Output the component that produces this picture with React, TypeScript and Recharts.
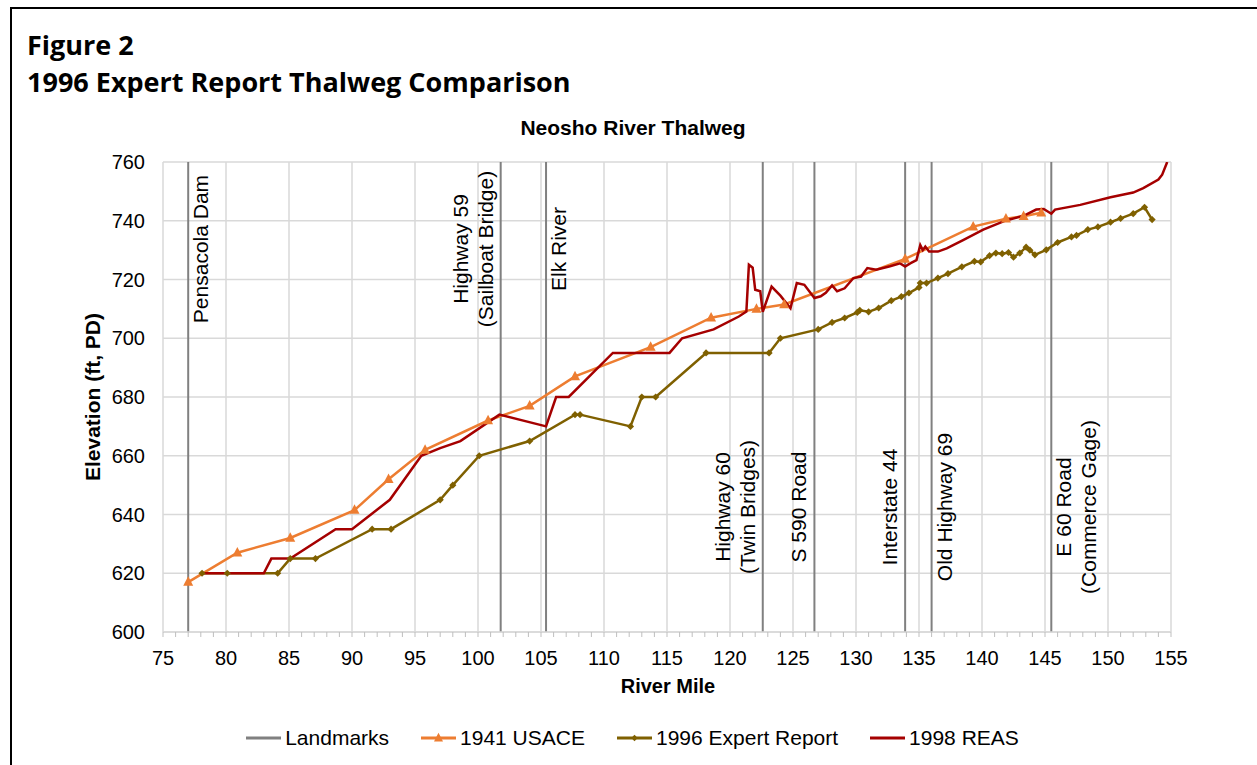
import React from "react";
import { LineChart, Line, XAxis, YAxis, CartesianGrid, Legend } from "recharts";

const W = 1257;
const H = 765;

// axis ticks
const xTicks = [75, 80, 85, 90, 95, 100, 105, 110, 115, 120, 125, 130, 135, 140, 145, 150, 155];
const xMinorTicks = Array.from({ length: 81 }, (_, i) => 75 + i);
const yTicks = [600, 620, 640, 660, 680, 700, 720, 740, 760];

// landmarks (river mile)
const landmarkNames = [
  "Pensacola Dam",
  "Highway 59 (Sailboat Bridge)",
  "Elk River",
  "Highway 60 (Twin Bridges)",
  "S 590 Road",
  "Interstate 44",
  "Old Highway 69",
  "E 60 Road (Commerce Gage)",
];
const landmarkMiles = [77.0, 101.8, 105.4, 122.6, 126.7, 133.9, 136.0, 145.5];
const landmarkLabelLines = [
  ["Pensacola Dam"],
  ["Highway 59", "(Sailboat Bridge)"],
  ["Elk River"],
  ["Highway 60", "(Twin Bridges)"],
  ["S 590 Road"],
  ["Interstate 44"],
  ["Old Highway 69"],
  ["E 60 Road", "(Commerce Gage)"],
];
// where each label sits: top/bottom of the plot, left/right of the line
const landmarkLabelSpots = [
  ["top", "right"],
  ["top", "left"],
  ["top", "right"],
  ["bottom", "left"],
  ["bottom", "left"],
  ["bottom", "left"],
  ["bottom", "right"],
  ["bottom", "right"],
];

// 1941 USACE
const usaceMiles = [77.0, 80.9, 85.1, 90.2, 92.9, 95.8, 100.8, 104.1, 107.7, 113.7, 118.5, 122.1, 124.3, 133.9, 139.3, 141.9, 143.3, 144.7];
const usaceElev = [617, 627, 632, 641.5, 652, 662, 672, 677, 687, 697, 707, 710, 711.5, 727, 738, 740.7, 741.5, 742.7];

// 1996 Expert Report
const expertMiles = [
  78.1, 80.1, 84.1, 85.1, 87.1, 91.6, 93.1, 97.0, 98.0, 100.1, 104.1, 107.7, 108.1, 112.1, 113.0, 114.1,
  118.1, 123.1, 124.0, 127.0, 128.1, 129.1, 130.1, 130.3, 131.0, 131.8, 132.8, 133.6, 134.2, 135.0, 135.1,
  135.6, 136.5, 137.3, 138.4, 139.4, 139.9, 140.6, 141.1, 141.6, 142.1, 142.5, 143.0, 143.5, 143.8, 144.2,
  145.1, 146.0, 147.1, 147.5, 148.4, 149.2, 150.2, 151.0, 152.0, 152.9, 153.5,
];
const expertElev = [
  620, 620, 620, 625, 625, 635, 635, 645, 650, 660, 665, 674, 674, 670, 680, 680,
  695, 695, 700, 703, 705.4, 706.9, 708.8, 709.5, 709, 710.3, 712.8, 714.2, 715.4, 717.3, 718.8,
  718.8, 720.5, 722, 724.3, 726.2, 726, 728.1, 729, 728.8, 729.2, 727.6, 729, 731, 730, 728.4,
  730.1, 732.6, 734.5, 735, 737, 737.9, 739.5, 740.8, 742.4, 744.6, 740.4,
];

// 1998 REAS
const reasMiles = [
  78.1, 83.0, 83.6, 85.1, 88.7, 90.0, 93.0, 95.5, 97.0, 98.6, 101.7, 105.4, 106.2, 107.2, 110.7, 115.2,
  116.2, 118.7, 120.7, 121.3, 121.5, 121.8, 122.0, 122.4, 122.6, 123.3, 124.0, 124.8, 125.3, 125.9, 126.7,
  127.2, 127.6, 128.1, 128.5, 129.1, 129.8, 130.4, 130.9, 131.6, 132.7, 133.5, 133.9, 134.3, 134.8, 135.1,
  135.3, 135.5, 135.8, 136.5, 137.2, 138.5, 140.1, 141.9, 143.3, 144.3, 144.9, 145.5, 145.8, 147.8, 150.2,
  152.0, 152.8, 154.0, 154.3, 154.7,
];
const reasElev = [
  620, 620, 625, 625, 635, 635, 645, 660, 662.6, 665, 674, 670, 680, 680, 695, 695,
  700, 703, 707.4, 709.1, 725, 724, 716.5, 716, 709, 717.6, 714.5, 710.2, 718.8, 718.2, 713.7,
  714.3, 715.5, 718, 716, 717, 720.5, 721, 723.9, 723.3, 724.5, 725.5, 724.4, 725.5, 726.6, 731.7,
  730, 731.2, 729.5, 729.5, 730.6, 733.4, 737, 740.1, 741.7, 743.8, 744, 742.4, 743.8, 745.4, 748,
  749.6, 751.1, 754, 755.7, 760,
];

const zip = (miles: number[], elev: number[]) => miles.map((m, i) => ({ mile: m, elev: elev[i] }));

const landmarkData = landmarkMiles.flatMap((m, i) => [
  { mile: m, elev: yTicks[0], kind: "base", li: i, name: landmarkNames[i] },
  { mile: m, elev: yTicks[yTicks.length - 1], kind: "top", li: i, name: landmarkNames[i] },
  { mile: m, elev: null, kind: "gap", li: i, name: landmarkNames[i] },
]);
const usaceData = zip(usaceMiles, usaceElev);
const expertData = zip(expertMiles, expertElev);
const reasData = zip(reasMiles, reasElev);

const COLORS = {
  landmarks: "#808080",
  usace: "#ED7D31",
  expert: "#7F6000",
  reas: "#A50000",
};

const seriesStyles = [
  { name: "Landmarks", color: COLORS.landmarks, marker: "none" },
  { name: "1941 USACE", color: COLORS.usace, marker: "triangle" },
  { name: "1996 Expert Report", color: COLORS.expert, marker: "diamond" },
  { name: "1998 REAS", color: COLORS.reas, marker: "none" },
];

const FONT = "'Liberation Sans', Arial, sans-serif";

const triPath = (cx: number, cy: number, s: number) =>
  `M${cx},${cy - s * 1.15}L${cx + s},${cy + s * 0.75}L${cx - s},${cy + s * 0.75}Z`;
const diaPath = (cx: number, cy: number, s: number) =>
  `M${cx},${cy - s}L${cx + s},${cy}L${cx},${cy + s}L${cx - s},${cy}Z`;

const TriangleDot = (props: any) => {
  const { cx, cy, index } = props;
  if (cx == null || cy == null) return <g key={`t-${index}`} />;
  return <path key={`t-${index}`} d={triPath(cx, cy, 5)} fill={COLORS.usace} />;
};

const DiamondDot = (props: any) => {
  const { cx, cy, index } = props;
  if (cx == null || cy == null) return <g key={`d-${index}`} />;
  return <path key={`d-${index}`} d={diaPath(cx, cy, 3.6)} fill={COLORS.expert} />;
};

// landmark names are drawn from the base / top point of each landmark line
const LandmarkLabel = (props: any) => {
  const { cx, cy, index, payload } = props;
  const key = `lm-${index}`;
  if (cx == null || cy == null || !payload) return <g key={key} />;
  const [where, side] = landmarkLabelSpots[payload.li];
  if ((where === "top" && payload.kind !== "top") || (where === "bottom" && payload.kind !== "base")) {
    return <g key={key} />;
  }
  const lines = landmarkLabelLines[payload.li];
  const centerY = where === "top" ? cy + 87 : cy - 125;
  const n = lines.length;
  return (
    <g key={key}>
      {lines.map((t, i) => {
        const bx = side === "right" ? cx + 20 + i * 25 : cx - 8 - (n - 1 - i) * 25;
        return (
          <text
            key={t}
            x={bx}
            y={centerY}
            transform={`rotate(-90 ${bx} ${centerY})`}
            textAnchor="middle"
            fontSize={21}
            fill="#000"
          >
            {t}
          </text>
        );
      })}
    </g>
  );
};

const XTick = (props: any) => {
  const { x, y, payload } = props;
  if (payload.value % 5 !== 0) return <g />;
  return (
    <text x={x} y={y} dy={24} textAnchor="middle" fontSize={20} fill="#000">
      {payload.value}
    </text>
  );
};

const LegendIcon = ({ color, marker }: { color: string; marker: string }) => (
  <svg width={35} height={14} style={{ display: "block" }}>
    <line x1={0} y1={7} x2={35} y2={7} stroke={color} strokeWidth={3} />
    {marker === "triangle" && <path d={triPath(17.5, 7, 4.5)} fill={color} />}
    {marker === "diamond" && <path d={diaPath(17.5, 7, 3.2)} fill={color} />}
  </svg>
);

const renderLegend = () => (
  <div style={{ display: "flex", justifyContent: "center", gap: 32, fontFamily: FONT, fontSize: 21, color: "#000" }}>
    {seriesStyles.map((s) => (
      <div key={s.name} style={{ display: "flex", alignItems: "center", gap: 4 }}>
        <LegendIcon color={s.color} marker={s.marker} />
        <span>{s.name}</span>
      </div>
    ))}
  </div>
);

export default function App() {
  return (
    <div style={{ position: "absolute", left: 0, top: 0, width: W, height: H, background: "#fff", fontFamily: FONT }}>
      <svg width={W} height={H} style={{ position: "absolute", left: 0, top: 0 }}>
        <line x1={10} y1={8} x2={W} y2={8} stroke="#000" strokeWidth={2} />
        <line x1={11} y1={8} x2={11} y2={H} stroke="#000" strokeWidth={2} />
        <text x={27} y={55} fontFamily="'Open Sans', sans-serif" fontWeight={700} fontSize={27} fill="#000">
          Figure 2
        </text>
        <text x={27} y={92} fontFamily="'Open Sans', sans-serif" fontWeight={700} fontSize={27} fill="#000">
          1996 Expert Report Thalweg Comparison
        </text>
        <text x={633} y={135} textAnchor="middle" fontWeight={700} fontSize={21} fill="#000">
          Neosho River Thalweg
        </text>
        <text x={668} y={693} textAnchor="middle" fontWeight={700} fontSize={20} fill="#000">
          River Mile
        </text>
        <text
          x={100}
          y={397}
          transform="rotate(-90 100 397)"
          textAnchor="middle"
          fontWeight={700}
          fontSize={21}
          fill="#000"
        >
          Elevation (ft, PD)
        </text>
      </svg>
      <div style={{ position: "absolute", left: 0, top: 0 }}>
        <LineChart width={W} height={H} margin={{ top: 162, right: 86, bottom: 93, left: 103 }}>
          <CartesianGrid stroke="#D9D9D9" strokeWidth={1.5} verticalValues={xTicks} horizontalValues={yTicks} />
          <XAxis
            type="number"
            dataKey="mile"
            domain={[75, 155]}
            ticks={xMinorTicks}
            interval={0}
            allowDataOverflow
            height={40}
            axisLine={{ stroke: "#D9D9D9", strokeWidth: 1.5 }}
            tickLine={{ stroke: "#BFBFBF" }}
            tickSize={5}
            tickMargin={4}
            tick={<XTick />}
          />
          <YAxis
            type="number"
            domain={[600, 760]}
            ticks={yTicks}
            interval={0}
            allowDataOverflow
            width={60}
            axisLine={false}
            tickLine={false}
            tickSize={0}
            tickMargin={18}
            tick={{ fill: "#000", fontSize: 20 }}
          />
          <Legend
            layout="horizontal"
            verticalAlign="middle"
            align="center"
            wrapperStyle={{ top: 726, left: 8, width: W - 8 }}
            content={renderLegend}
          />
          <Line
            name="Landmarks"
            data={landmarkData}
            dataKey="elev"
            stroke={COLORS.landmarks}
            strokeWidth={2}
            dot={LandmarkLabel}
            activeDot={false}
            connectNulls={false}
            isAnimationActive={false}
          />
          <Line
            name="1941 USACE"
            data={usaceData}
            dataKey="elev"
            stroke={COLORS.usace}
            strokeWidth={2.5}
            dot={TriangleDot}
            activeDot={false}
            isAnimationActive={false}
          />
          <Line
            name="1996 Expert Report"
            data={expertData}
            dataKey="elev"
            stroke={COLORS.expert}
            strokeWidth={2.5}
            dot={DiamondDot}
            activeDot={false}
            isAnimationActive={false}
          />
          <Line
            name="1998 REAS"
            data={reasData}
            dataKey="elev"
            stroke={COLORS.reas}
            strokeWidth={2.5}
            dot={false}
            activeDot={false}
            isAnimationActive={false}
          />
        </LineChart>
      </div>
    </div>
  );
}
